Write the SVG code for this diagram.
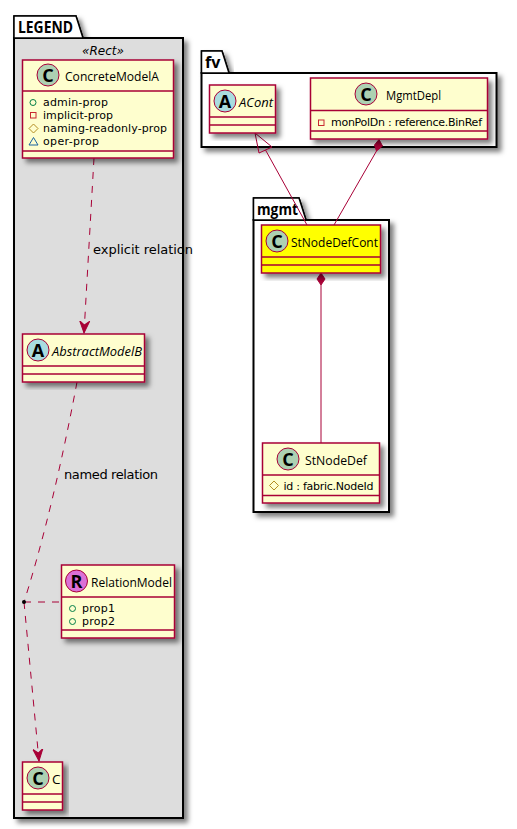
<svg xmlns="http://www.w3.org/2000/svg" width="517" height="829" viewBox="0 0 517 829">
<style>
text{font-family:"DejaVu Sans","Liberation Sans",sans-serif;fill:#000}
.pk{fill:#fff;stroke:#000;stroke-width:2;filter:url(#sh)}
.tab{fill:#fff;stroke:#000;stroke-width:1.5}
.title{font-family:"Open Sans","DejaVu Sans",sans-serif;font-size:16px;font-weight:bold}
.box{fill:#FEFECE;stroke:#A80036;stroke-width:1.5;filter:url(#sh)}
.sep{stroke:#A80036;stroke-width:1.5;fill:none}
.name{font-family:"Open Sans","DejaVu Sans",sans-serif;font-size:13.5px}
.at{font-size:11px}
.lbl{font-size:13px}
.cc{fill:#ADD1B2;stroke:#A80036;stroke-width:1}
.ca{fill:#A9DCDF;stroke:#A80036;stroke-width:1}
.cr{fill:#DA70D6;stroke:#A80036;stroke-width:1}
.ltr{font-family:"Open Sans","DejaVu Sans",sans-serif;font-size:18px;font-weight:bold;text-anchor:middle}
.ln{fill:none;stroke:#A80036;stroke-width:1}
.ds{stroke-dasharray:7 7}
.pub{fill:none;stroke:#038048}
.pri{fill:none;stroke:#C82930}
.pro{fill:none;stroke:#B38D22}
.pkg{fill:none;stroke:#1963A0}
</style>
<defs>
<filter id="sh" x="-10%" y="-10%" width="125%" height="125%">
<feDropShadow dx="4" dy="4" stdDeviation="2.5" flood-color="#000" flood-opacity="0.5"/>
</filter>
<marker id="open" markerUnits="userSpaceOnUse" markerWidth="16" markerHeight="14" refX="12" refY="6" orient="auto">
<path d="M0,1 L12,6 L0,11 L4,6 Z" fill="#A80036" stroke="#A80036"/>
</marker>
</defs>

<g id="pkg-legend">
<path class="tab" d="M14,38 V16 H76 L83,38 Z" filter="url(#sh)"/>
<rect x="14" y="38" width="169" height="780" fill="#DDDDDD" stroke="#000" stroke-width="2" filter="url(#sh)"/>
<path class="tab" d="M14,38 V16 H76 L83,38 Z"/>
<text class="title" x="18" y="33" textLength="55" lengthAdjust="spacingAndGlyphs">LEGEND</text>
<text x="103" y="55" font-size="13" font-style="italic" text-anchor="middle" textLength="42" lengthAdjust="spacingAndGlyphs">«Rect»</text>
</g>
<g id="pkg-fv">
<path class="tab" d="M201.5,73 V51 H222 L229,73 Z" filter="url(#sh)"/>
<rect class="pk" x="201.5" y="73" width="295" height="74"/>
<path class="tab" d="M201.5,73 V51 H222 L229,73 Z"/>
<text class="title" x="205" y="68">fv</text>
</g>
<g id="pkg-mgmt">
<path class="tab" d="M253.5,220 V198 H299 L306,220 Z" filter="url(#sh)"/>
<rect class="pk" x="253.5" y="220" width="135.5" height="292"/>
<path class="tab" d="M253.5,220 V198 H299 L306,220 Z"/>
<text class="title" x="257" y="215" textLength="41" lengthAdjust="spacingAndGlyphs">mgmt</text>
</g>

<g id="connectors">
<path class="ln ds" d="M94,158 L84,333" marker-end="url(#open)"/>
<path class="ln ds" d="M77,382 C68,430 50,520 24,602"/>
<path class="ln ds" d="M24,602 H61"/>
<path class="ln ds" d="M24,602 L39,761" marker-end="url(#open)"/>
<circle cx="24" cy="602" r="2" fill="#000"/>
<path class="ln" d="M265.5,150 L307,225"/>
<path class="ln" d="M255,133 L259,153 L272,147 Z"/>
<path class="ln" d="M376.5,151 L334,225"/>
<path d="M379,139.5 L382.5,146 L376.5,151 L374.5,145 Z" fill="#A80036" stroke="#A80036"/>
<path class="ln" d="M321,285 V443"/>
<path d="M321,273 L325,279 L321,285 L317,279 Z" fill="#A80036" stroke="#A80036"/>
<text class="lbl" x="93" y="254" textLength="100">explicit relation</text>
<text class="lbl" x="64" y="479" textLength="94">named relation</text>
</g>

<g id="ConcreteModelA">
<rect class="box" x="22.5" y="60" width="151" height="98"/>
<path class="sep" d="M22.5,91 H173.5 M22.5,151 H173.5"/>
<circle class="cc" cx="48" cy="75" r="11"/>
<text class="ltr" x="48" y="81.500">C</text>
<text class="name" x="65" y="80.500" textLength="94" lengthAdjust="spacingAndGlyphs">ConcreteModelA</text>
<circle class="pub" cx="33" cy="102.5" r="3"/>
<text class="at" x="43" y="106" textLength="65">admin-prop</text>
<rect class="pri" x="30.5" y="112.5" width="5.5" height="5.5"/>
<text class="at" x="43" y="119" textLength="70">implicit-prop</text>
<path class="pro" d="M33.5,124 L38,128.500 L33.5,133 L29,128.500 Z"/>
<text class="at" x="43" y="132" textLength="124">naming-readonly-prop</text>
<path class="pkg" d="M33.500,137.500 L38,145 H29 Z"/>
<text class="at" x="43" y="145" textLength="56">oper-prop</text>
</g>

<g id="AbstractModelB">
<rect class="box" x="22.5" y="334" width="122" height="48"/>
<path class="sep" d="M22.5,366 H144.500 M22.5,374 H144.500"/>
<circle class="ca" cx="38" cy="350" r="11"/>
<text class="ltr" x="38" y="356.500">A</text>
<text class="name" x="52" y="355.500" font-style="italic" textLength="90" lengthAdjust="spacingAndGlyphs">AbstractModelB</text>
</g>

<g id="RelationModel">
<rect class="box" x="61.5" y="565" width="113" height="73"/>
<path class="sep" d="M61.5,597 H174.500 M61.5,630 H174.500"/>
<circle class="cr" cx="76.500" cy="581" r="11"/>
<text class="ltr" x="76.500" y="587.500">R</text>
<text class="name" x="91" y="586.500" textLength="81" lengthAdjust="spacingAndGlyphs">RelationModel</text>
<circle class="pub" cx="72.500" cy="608.500" r="3"/>
<text class="at" x="82" y="612" textLength="33">prop1</text>
<circle class="pub" cx="72.500" cy="621.500" r="3"/>
<text class="at" x="82" y="625" textLength="33">prop2</text>
</g>

<g id="C">
<rect class="box" x="22.5" y="762" width="40" height="48"/>
<path class="sep" d="M22.5,794 H62.500 M22.5,802 H62.500"/>
<circle class="cc" cx="38" cy="778" r="11"/>
<text class="ltr" x="38" y="784.500">C</text>
<text class="name" x="52" y="783.500">C</text>
</g>

<g id="ACont">
<rect class="box" x="209.5" y="85" width="66" height="48"/>
<path class="sep" d="M209.5,117 H275.500 M209.5,125 H275.500"/>
<circle class="ca" cx="225" cy="101" r="11"/>
<text class="ltr" x="225" y="107.500">A</text>
<text class="name" x="239" y="106.500" font-style="italic" textLength="34" lengthAdjust="spacingAndGlyphs">ACont</text>
</g>

<g id="MgmtDepl">
<rect class="box" x="310.5" y="78" width="177" height="61"/>
<path class="sep" d="M310.5,110.500 H487.500 M310.5,131 H487.500"/>
<circle class="cc" cx="366" cy="94" r="11"/>
<text class="ltr" x="366" y="100.500">C</text>
<text class="name" x="386" y="99.500" textLength="55" lengthAdjust="spacingAndGlyphs">MgmtDepl</text>
<rect class="pri" x="318.500" y="120" width="5.500" height="5.500"/>
<text class="at" x="331" y="126" textLength="151">monPolDn : reference.BinRef</text>
</g>

<g id="StNodeDefCont">
<rect class="box" x="261.5" y="225" width="119" height="48" style="fill:#FFFF00"/>
<path class="sep" d="M261.5,257 H380.500 M261.5,265 H380.500"/>
<circle class="cc" cx="277" cy="241" r="11"/>
<text class="ltr" x="277" y="247.500">C</text>
<text class="name" x="291" y="246.500" textLength="87" lengthAdjust="spacingAndGlyphs">StNodeDefCont</text>
</g>

<g id="StNodeDef">
<rect class="box" x="262.5" y="443" width="117" height="60"/>
<path class="sep" d="M262.5,475 H379.500 M262.5,495.500 H379.500"/>
<circle class="cc" cx="288" cy="459" r="11"/>
<text class="ltr" x="288" y="465.500">C</text>
<text class="name" x="305" y="464.500" textLength="62" lengthAdjust="spacingAndGlyphs">StNodeDef</text>
<path class="pro" d="M274,481 L278.500,485.500 L274,490 L269.500,485.500 Z"/>
<text class="at" x="283.500" y="490" textLength="90">id : fabric.NodeId</text>
</g>
</svg>
